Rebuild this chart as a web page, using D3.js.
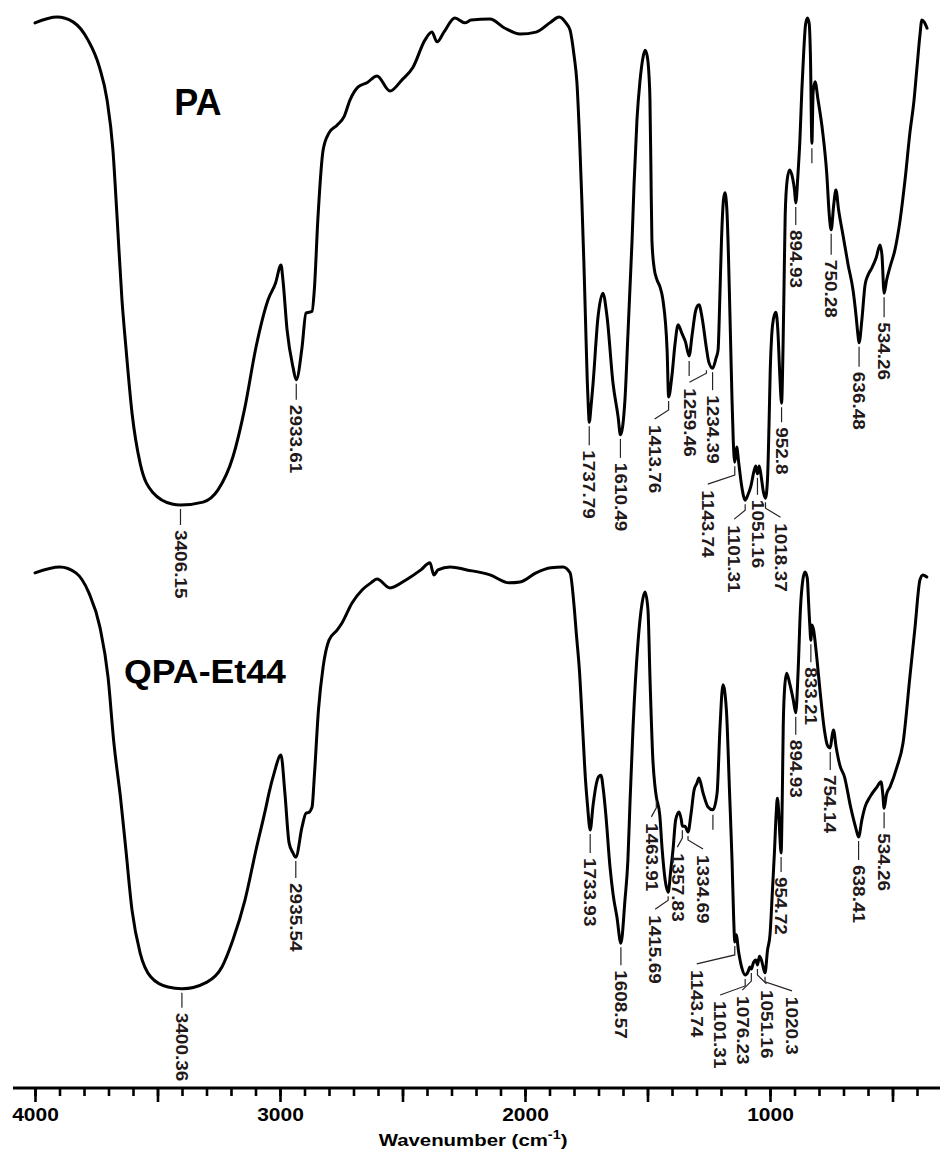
<!DOCTYPE html>
<html>
<head>
<meta charset="utf-8">
<script src="https://cdn.jsdelivr.net/npm/d3@7"></script>
<style>
  html, body { margin: 0; padding: 0; background: #fff; }
  svg { display: block; }
</style>
</head>
<body>
<svg id="chart" width="940" height="1151"></svg>
<script>
// FTIR spectra: wavenumber (cm-1) vs transmittance (a.u.), two samples stacked.

const sampleNames = ["PA", "QPA-Et44"];

// [wavenumber, transmittance] for the PA sample
const spectrumPA = [
  [4000, 99.0], [3910, 100.2], [3845, 99.2], [3784, 95.5], [3737, 89.9], [3706, 83.2],
  [3682, 72.9], [3665, 59.1], [3645, 42.1], [3629, 32.4], [3604, 18.9], [3571, 8.6],
  [3518, 2.5], [3441, 0.2], [3406.15, 0], [3314, 0.6], [3253, 3.1], [3192, 9.9],
  [3143, 20.1], [3098, 32.4], [3049, 42.1], [3018, 45.6], [2996, 49.3], [2988, 46.2],
  [2971, 35.9], [2947, 28.3], [2933.61, 25.7], [2910, 32.4], [2894, 39.4], [2880, 39.6],
  [2869, 39.8], [2860, 44.1], [2845, 59.1], [2824, 72.9], [2800, 76.4], [2767, 78.0],
  [2739, 79.7], [2714, 83.2], [2682, 85.8], [2645, 86.7], [2604, 88.1], [2551, 85.0],
  [2502, 87.3], [2457, 89.9], [2408, 95.5], [2380, 97.1], [2359, 95.1], [2331, 97.1],
  [2286, 100], [2245, 99.0], [2220, 99.6], [2143, 99.8], [2082, 97.9], [2020, 96.7],
  [1955, 97.1], [1894, 99.2], [1861, 100.2], [1833, 99.0], [1816, 97.5], [1800, 92.4],
  [1788, 86.7], [1777, 74.9], [1768, 62.6], [1760, 50.3], [1753, 38.0], [1746, 25.7],
  [1741, 19.5], [1737.79, 17.0], [1730, 20.5], [1722, 25.1], [1702, 38.6], [1682, 43.5],
  [1665, 38.6], [1641, 25.1], [1620, 18.1], [1610.49, 14.4], [1592, 21.6], [1580, 34.9],
  [1571, 45.2], [1563, 54.4], [1555, 65.7], [1543, 79.1], [1531, 86.9], [1518, 92.0],
  [1510, 93.4], [1502, 92.4], [1494, 88.3], [1490, 83.2], [1486, 68.8], [1482, 54.4],
  [1473, 48.7], [1461, 46.2], [1449, 44.8], [1437, 42.1], [1420, 31.8], [1413.76, 22.2],
  [1400, 26.7], [1388, 32.9], [1375, 37.0], [1360, 35.3], [1345, 33.5], [1330, 30.6],
  [1318, 34.9], [1303, 40.0], [1290, 41.1], [1277, 38.4], [1259.46, 32.2], [1250, 29.4],
  [1234.39, 28.1], [1220, 30.2], [1212, 31.8], [1205, 42.1], [1198, 54.4], [1190, 62.6],
  [1184, 64.1], [1176, 60.6], [1170, 52.0], [1165, 42.1], [1160, 31.8], [1155, 21.6],
  [1150, 13.3], [1143.74, 8.8], [1136, 11.9], [1128, 8.8], [1115, 3.7], [1101.31, 1.0],
  [1090, 2.1], [1078, 3.9], [1065, 7.0], [1058, 8.0], [1051.16, 6.4], [1044, 8.0],
  [1035, 5.5], [1027, 2.7], [1018.37, 1.4], [1010, 5.5], [1004, 16.4], [999, 27.7],
  [993, 34.9], [986, 38.2], [976, 39.6], [968, 35.9], [960, 26.7], [952.8, 20.9],
  [947, 31.8], [943, 44.1], [938, 59.5], [930, 66.7], [920, 68.8], [908, 67.2],
  [900, 64.7], [894.93, 62.0], [886, 67.8], [878, 74.9], [870, 85.2], [862, 93.4],
  [855, 98.6], [847, 100], [840, 98.8], [835, 92.4], [829, 74.3], [824, 84.8],
  [816, 86.9], [804, 83.2], [786, 77.0], [768, 67.8], [758, 59.5], [750.28, 56.5],
  [740, 61.6], [731, 64.7], [720, 60.6], [702, 55.4], [681, 49.3], [661, 44.1],
  [649, 39.0], [641, 34.9], [636.48, 33.3], [625, 38.0], [612, 45.2], [600, 47.2],
  [584, 48.7], [567, 50.7], [551, 53.4], [543, 51.3], [534.26, 43.5], [524, 46.2],
  [510, 48.9], [490, 52.4], [469, 58.5], [449, 66.7], [429, 76.4], [412, 83.2],
  [400, 89.9], [388, 96.5], [380, 99.6], [371, 99.2], [359, 97.9]
];

// [wavenumber, transmittance] for the QPA-Et44 sample
const spectrumQPA = [
  [4000, 99.8], [3898, 101.2], [3833, 99.8], [3780, 95.0], [3735, 86.8], [3702, 74.9],
  [3678, 59.1], [3650, 45.5], [3629, 33.5], [3604, 19.1], [3571, 8.9], [3527, 3.1],
  [3457, 0.7], [3400.36, 0.3], [3298, 1.9], [3237, 5.5], [3192, 12.0], [3143, 21.5],
  [3098, 33.5], [3057, 43.8], [3045, 47.1], [3024, 51.9], [2996, 56.2], [2980, 47.1],
  [2963, 35.2], [2947, 32.8], [2935.54, 31.8], [2910, 39.0], [2894, 42.3], [2882, 42.5],
  [2869, 43.8], [2860, 51.0], [2843, 67.0], [2824, 77.3], [2800, 83.7], [2767, 86.1],
  [2747, 87.8], [2706, 92.6], [2665, 95.7], [2629, 97.4], [2604, 98.3], [2551, 96.2],
  [2486, 98.1], [2425, 100.5], [2388, 102.2], [2372, 99.3], [2355, 100.5], [2306, 101.2],
  [2237, 100.5], [2143, 99.3], [2065, 97.4], [2020, 97.6], [1955, 99.8], [1894, 101.0],
  [1845, 101.2], [1816, 99.8], [1800, 92.1], [1790, 84.9], [1778, 76.6], [1765, 62.9],
  [1753, 50.2], [1745, 44.3], [1733.93, 38.3], [1722, 44.3], [1710, 49.0], [1700, 51.0],
  [1690, 51.4], [1680, 47.8], [1670, 41.9], [1653, 29.4], [1640, 22.7], [1625, 17.5],
  [1608.57, 11.2], [1592, 21.5], [1580, 31.1], [1571, 45.5], [1559, 62.9], [1539, 83.0],
  [1522, 92.6], [1510, 95.2], [1498, 90.9], [1490, 74.9], [1478, 55.0], [1470, 49.0],
  [1463.91, 46.2], [1450, 41.9], [1440, 33.5], [1428, 26.3], [1415.69, 23.4], [1405, 28.7],
  [1396, 33.5], [1385, 40.7], [1371, 42.6], [1362, 40.7], [1357.83, 39.2], [1347, 39.2],
  [1334.69, 37.8], [1322, 42.3], [1310, 47.8], [1298, 49.5], [1290, 50.7], [1273, 47.1],
  [1253, 43.8], [1233, 43.1], [1216, 47.1], [1204, 62.9], [1192, 73.0], [1178, 67.0],
  [1165, 47.1], [1155, 31.1], [1148, 16.7], [1143.74, 11.5], [1138, 13.2], [1128, 9.1],
  [1115, 5.3], [1101.31, 3.6], [1090, 4.3], [1082, 5.5], [1076.23, 5.0], [1068, 6.5],
  [1058, 7.2], [1051.16, 6.0], [1043, 8.1], [1035, 7.2], [1027, 5.3], [1020.3, 4.1],
  [1010, 9.6], [1000, 13.2], [990, 23.9], [982, 32.8], [975, 41.9], [970, 45.9],
  [965, 43.1], [960, 37.1], [954.72, 32.8], [950, 45.5], [946, 62.9], [940, 72.5],
  [932, 75.8], [920, 73.4], [905, 69.4], [894.93, 66.3], [885, 76.6], [876, 90.9],
  [866, 98.1], [857, 100.0], [848, 98.6], [842, 92.1], [837, 86.6], [833.21, 83.7],
  [829, 87.3], [822, 86.1], [810, 80.1], [795, 71.1], [778, 62.2], [766, 58.6],
  [754.14, 57.9], [746, 61.0], [741, 62.2], [730, 58.1], [715, 53.8], [696, 51.0],
  [671, 43.8], [650, 38.8], [638.41, 36.6], [625, 40.7], [612, 43.8], [592, 46.2],
  [563, 48.6], [547, 49.8], [540, 47.1], [534.26, 43.5], [525, 46.7], [510, 48.6],
  [482, 53.3], [457, 59.1], [429, 74.9], [408, 86.8], [388, 98.1], [376, 99.3],
  [360, 98.8]
];

// Peak positions annotated on each spectrum
const peaksPA = ["3406.15", "2933.61", "1737.79", "1610.49", "1413.76", "1259.46", "1234.39",
  "1143.74", "1101.31", "1051.16", "1018.37", "952.8", "894.93", "750.28", "636.48", "534.26"];
const peaksQPA = ["3400.36", "2935.54", "1733.93", "1608.57", "1463.91", "1415.69", "1357.83",
  "1334.69", "1143.74", "1101.31", "1076.23", "1051.16", "1020.3", "954.72", "894.93",
  "833.21", "754.14", "638.41", "534.26"];
// Positions that carry a marker line without a number
const bareMarksPA = [1330, 829];
const bareMarksQPA = [1233];

// Axis ticks
const majorTicks = d3.range(4000, 399, -500);
const minorTicks = d3.range(4000, 399, -100);
const labelledTicks = [4000, 3000, 2000, 1000];

// ---- layout ----
const W = 940, H = 1151;
const axisY = 1088;
const font = "'Liberation Sans', Arial, Helvetica, sans-serif";
const ink = "#000";
const labelInk = "#221818";

// label placement tweaks: dx = sideways shift of the number, top = gap below the dip
const layoutPA = {
  "3406.15": {top: 25}, "2933.61": {top: 25}, "1737.79": {top: 28}, "1610.49": {top: 28},
  "1413.76": {dx: -14, top: 28}, "1259.46": {dx: -17, top: 40, start: 22},
  "1234.39": {top: 27}, "1143.74": {dx: -27, top: 28}, "1101.31": {dx: -11, top: 25},
  "1051.16": {dx: 1, top: 26}, "1018.37": {dx: 15, top: 25}, "952.8": {top: 24},
  "894.93": {dx: -2, top: 27}, "750.28": {top: 30}, "636.48": {top: 29}, "534.26": {top: 29}
};
const layoutQPA = {
  "3400.36": {top: 24}, "2935.54": {top: 26}, "1733.93": {top: 28}, "1608.57": {top: 27},
  "1463.91": {dx: -5, top: 26}, "1415.69": {dx: -13, top: 23}, "1357.83": {dx: -5, top: 27},
  "1334.69": {dx: 15, top: 23}, "1143.74": {dx: -38, top: 28}, "1101.31": {dx: -25, top: 26},
  "1076.23": {dx: -9, top: 27}, "1051.16": {dx: 9, top: 25}, "1020.3": {dx: 27, top: 24},
  "954.72": {top: 24}, "894.93": {top: 27}, "833.21": {top: 27}, "754.14": {top: 27},
  "638.41": {top: 28}, "534.26": {dx: -1, top: 25}
};

const svg = d3.select("#chart");
svg.append("rect").attr("width", W).attr("height", H).attr("fill", "#fff");

const x = d3.scaleLinear().domain([4000, 400]).range([35, 917]);
const yPA = d3.scaleLinear().domain([0, 100]).range([505, 18]);
const yQPA = d3.scaleLinear().domain([0, 100]).range([990, 572]);

function valueAt(data, w) {
  for (let i = 0; i < data.length - 1; i++) {
    const a = data[i], b = data[i + 1];
    if (a[0] >= w && b[0] <= w) {
      const t = (a[0] - w) / (a[0] - b[0] || 1);
      return a[1] + t * (b[1] - a[1]);
    }
  }
  return data[data.length - 1][1];
}

function drawSpectrum(data, y, peaks, layout, bare) {
  const line = d3.line()
    .x(d => x(d[0]))
    .y(d => y(d[1]))
    .curve(d3.curveMonotoneX);

  svg.append("path")
    .datum(data)
    .attr("d", line)
    .attr("fill", "none")
    .attr("stroke", ink)
    .attr("stroke-width", 3)
    .attr("stroke-linejoin", "round")
    .attr("stroke-linecap", "round");

  const g = svg.append("g");

  peaks.forEach(p => {
    const w = +p;
    const px = x(w);
    const py = y(valueAt(data, w));
    const L = layout[p] || {};
    const dx = L.dx || 0;
    const top = L.top || 27;
    const start = L.start || 4;
    let pts;
    if (Math.abs(dx) < 3) {
      pts = [[px, py + start], [px, py + top - 5]];
    } else {
      pts = [[px, py + start], [px, py + Math.max(start, top - 15)], [px + dx, py + top - 6]];
    }
    g.append("path")
      .attr("d", d3.line()(pts))
      .attr("fill", "none")
      .attr("stroke", "#2a2222")
      .attr("stroke-width", 1.2);
    const tx = Math.abs(dx) < 3 ? px : px + dx;
    g.append("text")
      .attr("transform", `translate(${tx},${py + top}) rotate(90) scale(1.15,1)`)
      .attr("dy", "0.35em")
      .attr("font-family", font)
      .attr("font-weight", "bold")
      .attr("font-size", 16.5)
      .attr("fill", labelInk)
      .text(p);
  });

  bare.forEach(w => {
    const px = x(w);
    const py = y(valueAt(data, w));
    g.append("line")
      .attr("x1", px).attr("x2", px)
      .attr("y1", py + 5).attr("y2", py + 20)
      .attr("stroke", "#2a2222")
      .attr("stroke-width", 1.2);
  });
}

drawSpectrum(spectrumPA, yPA, peaksPA, layoutPA, bareMarksPA);
drawSpectrum(spectrumQPA, yQPA, peaksQPA, layoutQPA, bareMarksQPA);

// sample names
svg.append("text")
  .attr("x", x(3335)).attr("y", yPA(80))
  .attr("text-anchor", "middle")
  .attr("font-family", font).attr("font-weight", "bold").attr("font-size", 36)
  .attr("fill", ink)
  .text(sampleNames[0]);

svg.append("text")
  .attr("transform", `translate(${x(3637)},${yQPA(73.4)}) scale(1.05,1)`)
  .attr("font-family", font).attr("font-weight", "bold").attr("font-size", 34)
  .attr("fill", ink)
  .text(sampleNames[1]);

// x axis
const axisG = svg.append("g").attr("transform", `translate(0,${axisY})`);

axisG.append("line")
  .attr("x1", x(4090)).attr("x2", W)
  .attr("y1", 0).attr("y2", 0)
  .attr("stroke", ink).attr("stroke-width", 3);

const minorAxis = d3.axisBottom(x).tickValues(minorTicks).tickSize(8).tickFormat("");
const majorAxis = d3.axisBottom(x).tickValues(majorTicks).tickSize(14).tickPadding(7)
  .tickFormat(d => labelledTicks.includes(d) ? String(d) : "");

const minorG = axisG.append("g").call(minorAxis);
const majorG = axisG.append("g").call(majorAxis);
[minorG, majorG].forEach(gg => {
  gg.select(".domain").remove();
  gg.selectAll(".tick line").attr("stroke", ink).attr("stroke-width", 2.6);
});
majorG.selectAll(".tick text")
  .attr("font-family", font)
  .attr("font-weight", "bold")
  .attr("font-size", 17.5)
  .attr("fill", ink)
  .attr("transform", "scale(1.2,1)");

// axis title, centred under the plot
const title = svg.append("text")
  .attr("transform", `translate(${x(2212)},1146) scale(1.2,1)`)
  .attr("text-anchor", "middle")
  .attr("font-family", font).attr("font-weight", "bold").attr("font-size", 17)
  .attr("fill", ink);
title.append("tspan").text("Wavenumber (cm");
title.append("tspan").attr("dy", -7).attr("font-size", 12).text("-1");
title.append("tspan").attr("dy", 7).text(")");
</script>
</body>
</html>
